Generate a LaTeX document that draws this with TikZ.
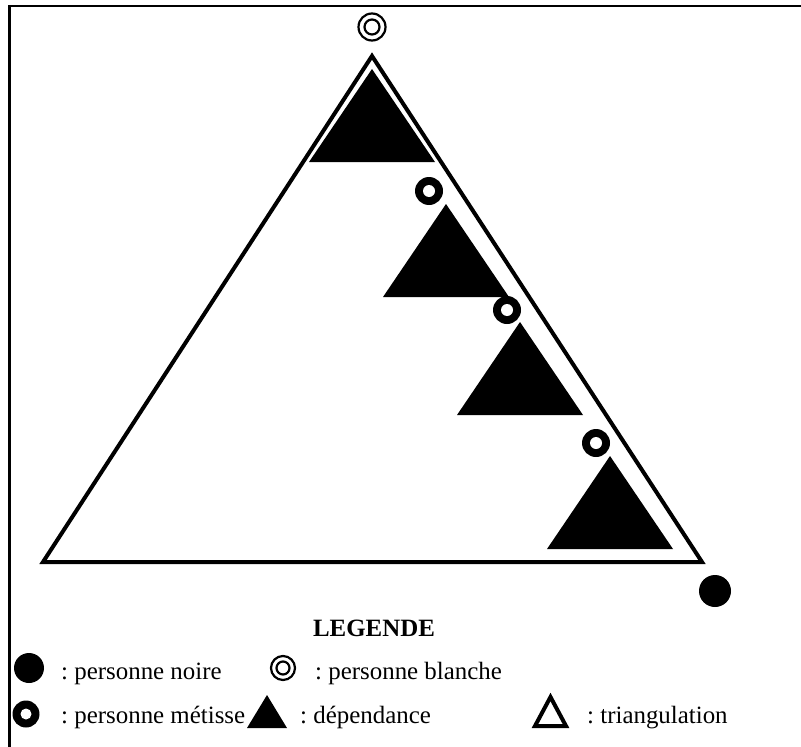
\documentclass[tikz,border=0pt]{standalone}
\usepackage{fontspec}
\setmainfont{Liberation Serif}
\frenchspacing
\begin{document}
\begin{tikzpicture}[x=1bp,y=-1bp,
  frame/.style={line width=2.6bp},
  outertri/.style={line width=4bp, line join=miter},
  deptri/.style={fill=black},
  opentri/.style={line width=4bp, line join=miter},
  whitering/.style={line width=2.2bp},
  lbl/.style={anchor=base west, inner sep=0pt, font=\fontsize{25}{30}\selectfont},
  ttl/.style={anchor=base, inner sep=0pt, font=\fontsize{25}{30}\selectfont\bfseries},
  metisse/.pic={\fill[black] (0,0) circle (14); \fill[white] (0,0) circle (6);},
  blanche/.pic={\draw[whitering] (0,0) circle (13.5) (0,0) circle (7.5);},
  noire/.pic={\fill[black] (0,0) circle (16);},
  dependance/.pic={\fill[deptri] (-63,0) -- (63,0) -- (0,-93) -- cycle;}
]
\useasboundingbox (0,0) rectangle (801,747);
% frame
\coordinate (fA) at (9.5,747);
\coordinate (fB) at (9.5,6);
\coordinate (fC) at (801,6);
\draw[frame] (fA) -- (fB) -- (fC);
% outer triangle
\coordinate (tL) at (43,562);
\coordinate (tR) at (702,562);
\coordinate (tT) at (372,56);
\draw[outertri] (tL) -- (tR) -- (tT) -- cycle;
% dependance triangles (base centre)
\pic at (372,162) {dependance};
\pic at (446,297) {dependance};
\pic at (520,415) {dependance};
\pic at (610,549) {dependance};
% persons
\pic at (372,27) {blanche};
\pic at (429,191) {metisse};
\pic at (507,310) {metisse};
\pic at (596,443) {metisse};
\pic at (715,591) {noire};
% legend
\node[ttl] (leg) at (374,636) {LEGENDE};
\fill (29,668) circle (15);
\node[lbl] (l1) at (61,679) {: personne noire};
\draw[whitering] (283,668) circle (12) (283,668) circle (6.5);
\node[lbl] (l2) at (315,679) {: personne blanche};
\fill[black] (26,714) circle (13.5); \fill[white] (26,714) circle (5.5);
\node[lbl] (l3) at (61,723) {: personne métisse};
\fill[deptri] (247,728) -- (287,728) -- (267,695) -- cycle;
\node[lbl] (l4) at (300,723) {: dépendance};
\draw[opentri] (535,726) -- (566,726) -- (550.5,697) -- cycle;
\node[lbl] (l5) at (587,723) {: triangulation};
\end{tikzpicture}
\end{document}
